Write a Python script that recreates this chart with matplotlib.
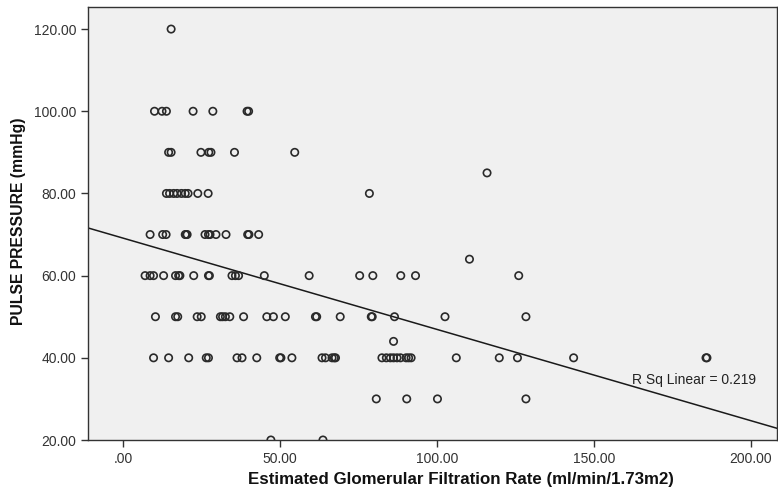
import matplotlib.pyplot as plt
import numpy as np

# eGFR values, grouped by pulse pressure level
pp_levels = [120, 100, 90, 85, 80, 70, 64, 60, 50, 44, 40, 30, 20]
egfr_pp120 = [15.2]
egfr_pp100 = [9.9, 12.3, 13.7, 22.2, 28.5, 39.4, 39.9]
egfr_pp90 = [14.4, 15.2, 24.7, 27.2, 27.9, 35.4, 54.6]
egfr_pp85 = [115.9]
egfr_pp80 = [13.7, 14.7, 16.0, 17.1, 18.5, 19.7, 20.6, 23.7, 27.0, 78.4]
egfr_pp70 = [8.5, 12.5, 13.6, 19.7, 20.0, 20.3, 26.0, 27.1, 27.6, 29.5, 32.7,
             39.6, 40.0, 43.1]
egfr_pp64 = [110.3]
egfr_pp60 = [6.9, 8.5, 9.6, 12.8, 16.6, 17.6, 18.0, 22.4, 27.1, 27.4, 34.6,
             35.7, 36.7, 44.9, 59.2, 75.3, 79.5, 88.4, 93.1, 126.0]
egfr_pp50 = [10.2, 16.6, 17.3, 23.5, 24.8, 30.9, 31.6, 32.5, 33.9, 38.3, 45.7,
             47.8, 51.6, 61.2, 61.6, 69.1, 79.0, 79.3, 86.4, 102.5, 128.3]
egfr_pp44 = [86.1]
egfr_pp40 = [9.6, 14.4, 20.8, 26.4, 27.1, 36.2, 37.8, 42.5, 49.8, 50.2, 53.7,
             63.3, 64.4, 66.5, 67.2, 67.6, 82.4, 83.8, 85.1, 86.1, 87.2, 88.3,
             90.1, 90.9, 91.7, 106.1, 119.8, 125.6, 143.5, 185.7, 186.0]
egfr_pp30 = [80.6, 90.3, 100.1, 128.3]
egfr_pp20 = [47.0, 63.6]

# fit line as shown on the chart
fit_intercept = 69.1
fit_slope = -0.222
r_sq = 0.219

groups = [egfr_pp120, egfr_pp100, egfr_pp90, egfr_pp85, egfr_pp80, egfr_pp70,
          egfr_pp64, egfr_pp60, egfr_pp50, egfr_pp44, egfr_pp40, egfr_pp30,
          egfr_pp20]
egfr = np.concatenate([np.array(g) for g in groups])
pulse = np.concatenate([np.full(len(g), lvl) for g, lvl in zip(groups, pp_levels)])

plt.rcParams['font.family'] = ['Liberation Sans', 'DejaVu Sans']

fig = plt.figure(figsize=(7.78, 4.96), dpi=100)
ax = fig.add_axes([0.1135, 0.1129, 0.8855, 0.8724])
ax.set_facecolor('#f0f0f0')

ax.scatter(egfr, pulse, s=28, facecolors='none', edgecolors='#2a2a2a',
           linewidths=1.2, zorder=3)

xlim = (-11.2, 208.4)
xs = np.array(xlim)
ax.plot(xs, fit_intercept + fit_slope * xs, color='#1a1a1a', lw=1.1, zorder=2)

ax.set_xlim(*xlim)
ax.set_ylim(20, 125.3)
ax.set_xticks([0, 50, 100, 150, 200])
ax.set_xticklabels(['.00', '50.00', '100.00', '150.00', '200.00'])
ax.set_yticks([20, 40, 60, 80, 100, 120])
ax.set_yticklabels(['%.2f' % v for v in [20, 40, 60, 80, 100, 120]])
ax.tick_params(direction='out', length=5, width=1, colors='#333333',
               labelsize=10, labelcolor='#333333')

for side in ['left', 'bottom', 'top', 'right']:
    ax.spines[side].set_color('#333333')
    ax.spines[side].set_linewidth(1.0)

ax.text(162, 34.5, 'R Sq Linear = %.3f' % r_sq, fontsize=10, color='#222222',
        va='center', ha='left')

ax.set_xlabel('Estimated Glomerular Filtration Rate (ml/min/1.73m2)',
              fontsize=12.2, fontweight='bold', color='#111111', va='center')
ax.xaxis.set_label_coords(0.541, -0.0924)
ax.set_ylabel('PULSE PRESSURE (mmHg)', fontsize=11.3, fontweight='bold',
              color='#111111', va='center')
ax.yaxis.set_label_coords(-0.102, 0.505)

fig.savefig('out.png', dpi=100)
